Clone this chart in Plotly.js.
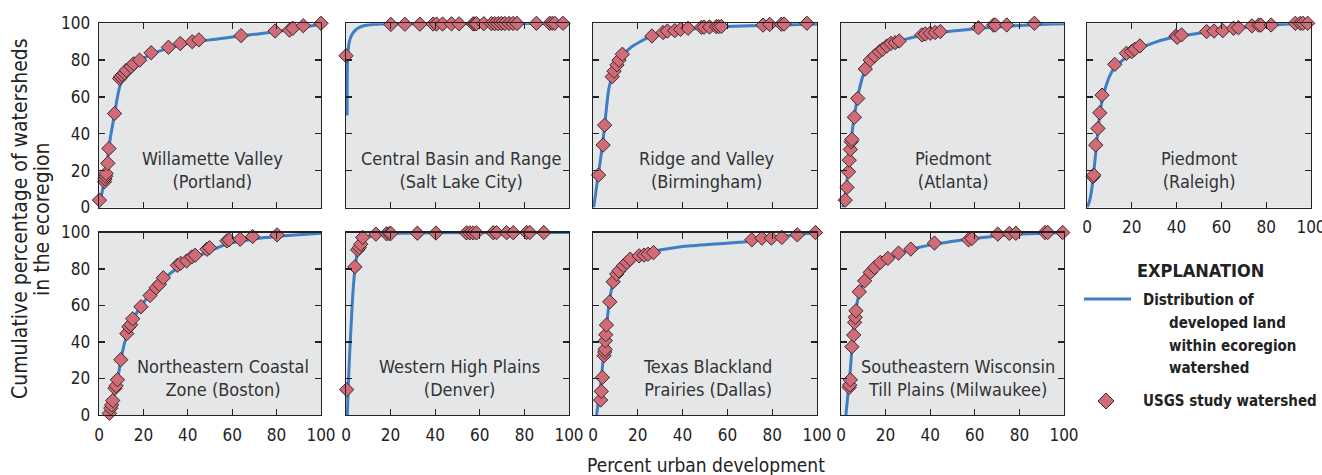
<!DOCTYPE html>
<html>
<head>
<meta charset="utf-8">
<script src="https://cdn.plot.ly/plotly-3.0.1.min.js"></script>
<style>html,body{margin:0;padding:0;background:#fff;}#chart{width:1322px;height:475px;}</style>
</head>
<body>
<div id="chart"></div>
<script>
// ---------- DATA ----------
const panelLabels = [
  "Willamette Valley<br>(Portland)",
  "Central Basin and Range<br>(Salt Lake City)",
  "Ridge and Valley<br>(Birmingham)",
  "Piedmont<br>(Atlanta)",
  "Piedmont<br>(Raleigh)",
  "Northeastern Coastal<br>Zone (Boston)",
  "Western High Plains<br>(Denver)",
  "Texas Blackland<br>Prairies (Dallas)",
  "Southeastern Wisconsin<br>Till Plains (Milwaukee)"
];
const tickValues = [0, 20, 40, 60, 80, 100];
const tickLabels = ["0", "20", "40", "60", "80", "100"];

// Portland
const portlandX = [0.2, 2.5, 2.7, 3, 3.2, 4, 4.5, 7, 9.3, 9.8, 10.5, 11.5, 12.3, 14.5, 15.6, 18.3, 23.5, 31.3, 36.6, 42, 45, 64, 79.3, 85.8, 87.3, 92, 100];
const portlandY = [4, 14, 15.5, 17, 18.5, 24, 32, 51, 70, 71, 72, 73, 74.5, 76.5, 78, 80, 84, 87, 89, 90, 91, 93.3, 95.8, 96.3, 97.3, 98.7, 100];
const portlandLineX = [0, 1, 2, 3, 4, 5, 6, 7, 8, 9, 10, 12, 15, 20, 25, 30, 40, 50, 60, 70, 80, 90, 100];
const portlandLineY = [0, 6, 12, 20, 28, 37, 44, 51, 58, 64, 68, 72, 76.5, 81, 84, 86, 89, 91, 92.5, 94, 95.5, 97.5, 99.5];

// Salt Lake City
const saltLakeX = [0, 20.1, 26.4, 33.1, 39.1, 40.6, 43.3, 47.3, 50.7, 57, 57.8, 58.5, 61.8, 65.2, 66.7, 68.2, 69.7, 71.2, 73.1, 74.9, 76.7, 85.4, 91.3, 92.5, 93.6, 97.3];
const saltLakeY = [82.4, 99.4, 99.5, 99.5, 99.6, 99.6, 99.6, 99.7, 99.7, 99.7, 99.7, 99.8, 99.8, 99.8, 99.8, 99.8, 99.9, 99.9, 99.9, 99.9, 99.9, 100, 100, 100, 100, 100];
const saltLakeLineX = [0.5, 0.55, 0.7, 1, 1.5, 2.5, 4, 6, 9, 13, 20, 100];
const saltLakeLineY = [50, 70, 80, 86, 90, 93.5, 96, 97.8, 98.9, 99.5, 99.8, 100];

// Birmingham
const birminghamX = [2.5, 4.5, 5.2, 8.6, 9.4, 10.7, 11.6, 13.1, 26.3, 31.3, 33.2, 36.5, 39.1, 42.4, 48.4, 49.6, 52, 55, 56.1, 57.3, 75.9, 78.9, 84.1, 85.3, 95.5];
const birminghamY = [17.6, 33.9, 44.7, 71, 74, 77.4, 80, 83.2, 93.1, 95, 95.8, 96, 96.7, 97.3, 97.8, 97.9, 98, 98.2, 98.2, 98.3, 99, 99.4, 99.5, 99.6, 100];
const birminghamLineX = [0.3, 1, 2, 3, 4, 5, 6, 7, 8, 9, 10, 12, 14, 17, 20, 25, 30, 40, 50, 60, 80, 100];
const birminghamLineY = [0, 6, 15, 23, 32, 42, 54, 64, 69, 72.5, 75.5, 80, 83.5, 87, 89.3, 92.5, 94.5, 96.5, 97.5, 98.2, 99, 99.6];

// Atlanta
const atlantaX = [1.9, 2.7, 3.4, 3.7, 4.2, 4.6, 4.9, 6, 7.5, 10.9, 13.1, 15.1, 17.2, 18.7, 20.6, 22.4, 24.3, 26.1, 36.3, 37.8, 40, 42.2, 44.5, 61.6, 68.4, 69.2, 74.3, 86.7];
const atlantaY = [4, 10.9, 19.4, 25.7, 31.5, 35.7, 37, 49, 59.2, 75.2, 80, 82.3, 84.6, 85.9, 87.7, 89.1, 89.5, 90.4, 93.7, 94.2, 94.6, 95, 95.5, 97.6, 99, 99.1, 99.1, 100];
const atlantaLineX = [0.8, 2, 3, 4, 5, 6, 7, 8, 10, 13, 16, 20, 25, 30, 40, 50, 60, 70, 80, 90, 100];
const atlantaLineY = [0, 8, 18, 30, 41, 50, 57, 63, 72, 79, 83.5, 87.5, 90, 91.7, 94.3, 95.8, 97, 98, 98.8, 99.4, 99.7];

// Raleigh
const raleighX = [2.7, 3, 3.9, 4.9, 5.7, 6.7, 12.4, 17.6, 19.9, 21.3, 23.6, 39.7, 40.3, 42.2, 53.4, 56.7, 60.6, 65.4, 67.6, 73.6, 76.6, 77.6, 82.2, 93, 95.2, 96.4, 97.5, 98.5];
const raleighY = [16.7, 17.6, 33.9, 42.9, 51.4, 61, 77.7, 83.7, 84.6, 85.9, 87.7, 93.1, 92.4, 93.7, 95.5, 95.8, 96, 97.3, 97.6, 98.6, 99, 99, 99.1, 100, 100, 100, 100.2, 100];
const raleighLineX = [0, 1, 2, 3, 4, 5, 6, 7, 8, 10, 12, 15, 18, 22, 30, 37, 45, 52, 60, 67, 75, 82, 90, 100];
const raleighLineY = [0, 3, 9, 19, 31, 43, 53, 59.5, 64, 71, 75.5, 79, 82, 85.5, 89.5, 92, 93.7, 95, 96.2, 97.3, 98.3, 99, 99.6, 100];

// Boston
const bostonX = [4.7, 5.3, 5.7, 6.2, 7.2, 7.7, 8.3, 9.8, 12.5, 13.5, 14.3, 15.2, 18.9, 23, 25.7, 27.2, 29, 35.3, 36.8, 39.5, 41.8, 43.3, 48.6, 49.8, 57.6, 58.6, 63.6, 69.2, 80.2];
const bostonY = [0.9, 3.7, 5.5, 7.9, 14.7, 16, 19.3, 30.3, 44.6, 48.3, 49.5, 52.7, 59.3, 65.5, 69.7, 71.6, 75.2, 82, 83.1, 84.4, 86.6, 87.5, 90.8, 91.7, 95.4, 96, 96.3, 97.8, 98.7];
const bostonLineX = [4.2, 5, 6, 7, 8, 9, 10, 11, 12, 14, 17, 20, 24, 28, 33, 38, 43, 50, 58, 65, 73, 80, 90, 100];
const bostonLineY = [0, 3, 7, 12, 17.4, 24, 31, 37, 41.5, 48, 56, 61.5, 67.5, 73, 78.5, 82.5, 86, 90, 93.8, 95.5, 97, 97.8, 98.8, 99.6];

// Denver
const denverX = [0.3, 4, 5.2, 6, 6.6, 7.5, 13.4, 18.2, 19.4, 20.1, 32, 40.3, 54, 55.5, 57, 58.5, 66, 67.5, 72, 75, 81, 82.4, 88.7];
const denverY = [13.9, 81.2, 90.5, 91.8, 93.6, 97.3, 99.1, 99.3, 99.4, 99.5, 99.6, 99.7, 99.8, 99.8, 99.8, 99.8, 99.9, 99.9, 99.9, 99.9, 100, 100, 100];
const denverLineX = [0.6, 1, 1.5, 2, 3, 4, 5, 6.3, 8, 9.3, 12, 15, 20, 40, 100];
const denverLineY = [0, 15, 30, 42, 65, 80, 88, 92.7, 95.8, 97.3, 98.4, 99, 99.5, 99.9, 100];

// Dallas
const dallasX = [3.4, 3.7, 4.2, 4.9, 5.2, 5.4, 5.5, 5.7, 6, 7.5, 9, 10.6, 11.6, 13.6, 15.1, 16.6, 20.6, 22.8, 24.6, 27, 70.9, 75.4, 79.6, 84.3, 91.2, 99.3];
const dallasY = [8.2, 13, 20.6, 32.5, 34.5, 36, 40.7, 44, 49.3, 62, 73, 77.2, 79, 81.8, 83.6, 85.4, 87.2, 87.6, 88.1, 89, 96, 96.9, 96.9, 97.3, 98.7, 100];
const dallasLineX = [1.6, 2.5, 3.4, 4.5, 5.7, 7.2, 9.1, 11, 13.9, 17, 21.3, 25, 30.3, 37, 43.7, 50, 58.7, 65, 70.6, 76, 81, 90, 99.7];
const dallasLineY = [0, 8, 16, 30, 43.4, 61.7, 72.6, 77.5, 81.8, 85, 87.2, 89, 90.5, 91.8, 92.7, 93.3, 94, 94.6, 95.4, 96.3, 97.3, 98.7, 100];

// Milwaukee
const milwaukeeX = [3.7, 3.9, 4.2, 4.9, 5.7, 6.1, 6.4, 6.7, 8.2, 10.6, 13.1, 15.1, 17.6, 21, 25.8, 31.3, 41.9, 57.2, 58.7, 70.3, 75.5, 78.4, 91.5, 92.7, 99.4];
const milwaukeeY = [15.1, 16.4, 19.3, 37.4, 43.8, 50.7, 53.5, 57.1, 67.5, 73.5, 78.1, 80.8, 83.6, 85.8, 88.7, 90.9, 94.2, 96, 96.7, 99.1, 99.5, 99.6, 100, 100, 100];
const milwaukeeLineX = [2.2, 3, 4.2, 5, 6.1, 7, 7.9, 9, 10.9, 13.5, 16.9, 21, 25.8, 30, 34.8, 40, 45.2, 52, 60.1, 67, 75, 85, 99.7];
const milwaukeeLineY = [0, 10, 25, 38, 52.6, 60, 65, 69.5, 73.5, 78, 81.8, 85, 88, 90.2, 91.8, 93.2, 94.2, 95.5, 96.7, 97.7, 98.7, 99.3, 100];

const legendTitle = "EXPLANATION";
const legendLineLabel = "Distribution of";
const legendLineLabelMore = ["developed land", "within ecoregion", "watershed"];
const legendMarkerLabel = "USGS study watershed";
const xTitle = "Percent urban development";
const yTitleLines = ["Cumulative percentage of watersheds", "in the ecoregion"];

// ---------- BUILD ----------
const series = [
  [portlandX, portlandY, portlandLineX, portlandLineY],
  [saltLakeX, saltLakeY, saltLakeLineX, saltLakeLineY],
  [birminghamX, birminghamY, birminghamLineX, birminghamLineY],
  [atlantaX, atlantaY, atlantaLineX, atlantaLineY],
  [raleighX, raleighY, raleighLineX, raleighLineY],
  [bostonX, bostonY, bostonLineX, bostonLineY],
  [denverX, denverY, denverLineX, denverLineY],
  [dallasX, dallasY, dallasLineX, dallasLineY],
  [milwaukeeX, milwaukeeY, milwaukeeLineX, milwaukeeLineY]
];

const W = 1322, H = 475;
const colPx = [[99, 321], [346, 569], [593, 817], [841, 1064], [1087, 1311]];
const rowPx = [[23.3, 207.5], [232.5, 415]];
const FONT = '"Liberation Sans Narrow", "DejaVu Sans Condensed", "Arial Narrow", sans-serif';
const LINE_COLOR = '#3f7dc4';
const MARKER_COLOR = '#d16b78';
const MARKER_LINE = '#3a2a2c';
const BG = '#e5e6e8';

const traces = [];
const layout = {
  width: W, height: H,
  margin: {l: 0, r: 0, t: 0, b: 0},
  paper_bgcolor: '#ffffff',
  showlegend: false,
  font: {family: FONT, color: '#222', size: 16},
  annotations: [],
  shapes: []
};

series.forEach((s, i) => {
  const row = i < 5 ? 0 : 1;
  const col = i < 5 ? i : i - 5;
  const n = i + 1;
  const xa = 'x' + (n === 1 ? '' : n);
  const ya = 'y' + (n === 1 ? '' : n);
  traces.push({
    type: 'scatter', mode: 'lines', x: s[2], y: s[3], xaxis: xa, yaxis: ya,
    line: {color: LINE_COLOR, width: 3, shape: 'spline', smoothing: 0.6},
    hoverinfo: 'skip', cliponaxis: true
  });
  traces.push({
    type: 'scatter', mode: 'markers', x: s[0], y: s[1], xaxis: xa, yaxis: ya,
    marker: {symbol: 'diamond', size: 11, color: MARKER_COLOR, line: {color: MARKER_LINE, width: 1}},
    cliponaxis: false
  });
  const xKey = 'xaxis' + (n === 1 ? '' : n);
  const yKey = 'yaxis' + (n === 1 ? '' : n);
  const showX = row === 1 || col === 4;
  const showY = col === 0;
  layout[xKey] = {
    domain: [colPx[col][0] / W, colPx[col][1] / W],
    anchor: ya, range: [0, 100], tickvals: tickValues, ticktext: tickLabels,
    ticks: 'inside', ticklen: 6, tickwidth: 1.3, tickcolor: '#222',
    showline: true, linecolor: '#222', linewidth: 1.3, mirror: 'ticks',
    showgrid: false, zeroline: false, showticklabels: showX,
    tickfont: {family: FONT, size: 17, color: '#222'}, ticklabelstandoff: 4,
    ticklabeloverflow: 'allow', fixedrange: true
  };
  layout[yKey] = {
    domain: [1 - rowPx[row][1] / H, 1 - rowPx[row][0] / H],
    anchor: xa, range: [0, 100], tickvals: tickValues, ticktext: tickLabels,
    ticks: 'inside', ticklen: 6, tickwidth: 1.3, tickcolor: '#222',
    showline: true, linecolor: '#222', linewidth: 1.3, mirror: 'ticks',
    showgrid: false, zeroline: false, showticklabels: showY,
    tickfont: {family: FONT, size: 17, color: '#222'}, ticklabelstandoff: 4,
    ticklabeloverflow: 'allow', fixedrange: true
  };
  layout.shapes.push({
    type: 'rect', xref: xa + ' domain', yref: ya + ' domain', x0: 0, x1: 1, y0: 0, y1: 1,
    fillcolor: BG, line: {width: 0}, layer: 'below'
  });
  const labelX = [51, 51.6, 50.7, 50.2, 50, 56, 50.7, 51, 52.5][i];
  layout.annotations.push({
    xref: xa, yref: ya, x: labelX, y: 20.5, text: panelLabels[i],
    showarrow: false, xanchor: 'center', yanchor: 'middle', align: 'center',
    font: {family: FONT, size: 18, color: '#333'}
  });
});

// Axis titles
yTitleLines.forEach((t, k) => {
  layout.annotations.push({
    xref: 'paper', yref: 'paper', x: (20 + 22 * k) / W, y: 1 - 219 / H,
    text: t, textangle: -90,
    showarrow: false, xanchor: 'center', yanchor: 'middle', align: 'center',
    font: {family: FONT, size: 21, color: '#222'}
  });
});
layout.annotations.push({
  xref: 'paper', yref: 'paper', x: 706 / W, y: 1 - 465 / H,
  text: xTitle,
  showarrow: false, xanchor: 'center', yanchor: 'middle',
  font: {family: FONT, size: 19, color: '#222'}
});

// Explanation (legend)
layout.annotations.push({
  xref: 'paper', yref: 'paper', x: 1200 / W, y: 1 - 270 / H,
  text: '<b>' + legendTitle + '</b>', showarrow: false, xanchor: 'center', yanchor: 'middle',
  font: {family: FONT, size: 18, color: '#222'}
});
layout.shapes.push({
  type: 'line', xref: 'paper', yref: 'paper', x0: 1084 / W, x1: 1131 / W,
  y0: 1 - 299 / H, y1: 1 - 299 / H, line: {color: LINE_COLOR, width: 3}
});
layout.annotations.push({
  xref: 'paper', yref: 'paper', x: 1141 / W, y: 1 - 300 / H,
  text: '<b>' + legendLineLabel + '</b>', showarrow: false, xanchor: 'left', yanchor: 'middle',
  font: {family: FONT, size: 15, color: '#222'}
});
legendLineLabelMore.forEach((t, k) => {
  layout.annotations.push({
    xref: 'paper', yref: 'paper', x: 1167 / W, y: 1 - (323 + 22.5 * k) / H,
    text: '<b>' + t + '</b>', showarrow: false, xanchor: 'left', yanchor: 'middle',
    font: {family: FONT, size: 15, color: '#222'}
  });
});
const dcx = 1106, dcy = 401, dr = 8;
layout.shapes.push({
  type: 'path', xref: 'paper', yref: 'paper',
  path: 'M ' + ((dcx - dr) / W) + ',' + (1 - dcy / H) + ' L ' + (dcx / W) + ',' + (1 - (dcy - dr) / H) +
        ' L ' + ((dcx + dr) / W) + ',' + (1 - dcy / H) + ' L ' + (dcx / W) + ',' + (1 - (dcy + dr) / H) + ' Z',
  fillcolor: MARKER_COLOR, line: {color: MARKER_LINE, width: 1}
});
layout.annotations.push({
  xref: 'paper', yref: 'paper', x: 1141 / W, y: 1 - 401 / H,
  text: '<b>' + legendMarkerLabel + '</b>', showarrow: false, xanchor: 'left', yanchor: 'middle',
  font: {family: FONT, size: 15, color: '#222'}
});

Plotly.newPlot('chart', traces, layout, {displayModeBar: false, staticPlot: true});
</script>
</body>
</html>
